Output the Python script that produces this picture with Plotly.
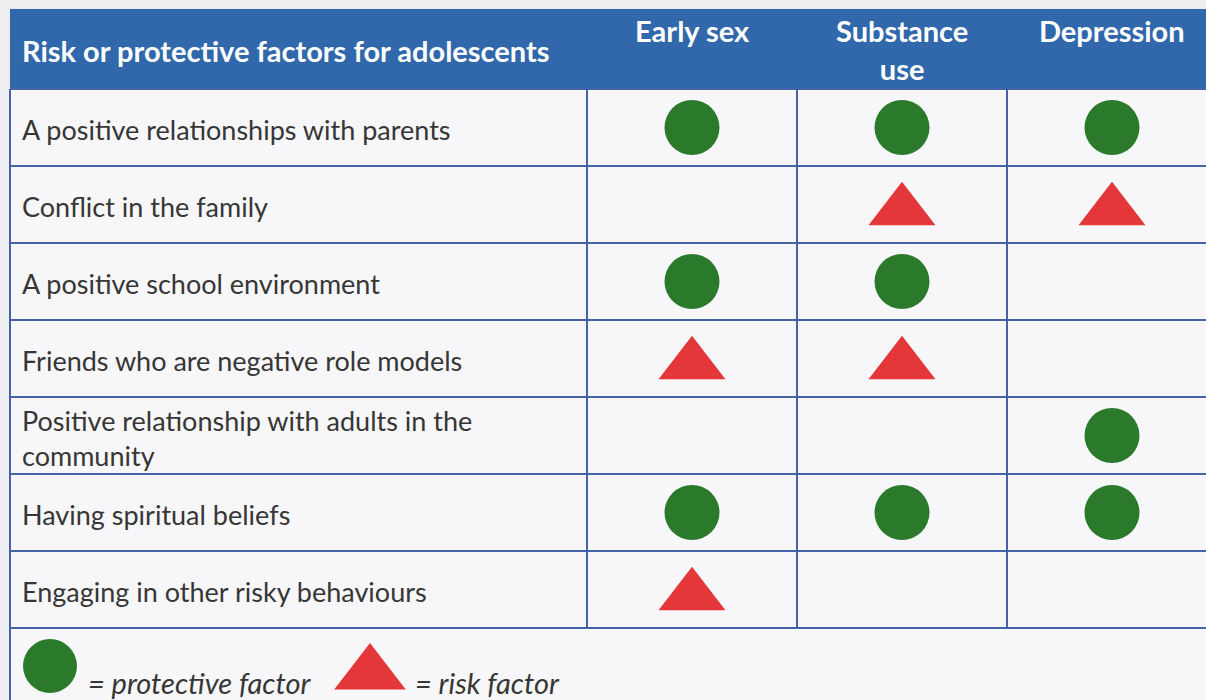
import plotly.graph_objects as go

# ---------------- data ----------------
factors = [
    "A positive relationships with parents",
    "Conflict in the family",
    "A positive school environment",
    "Friends who are negative role models",
    "Positive relationship with adults in the<br>community",
    "Having spiritual beliefs",
    "Engaging in other risky behaviours",
]
outcomes = ["Early sex", "Substance<br>use", "Depression"]
# P = protective factor, R = risk factor, "" = none
early_sex = ["P", "", "P", "R", "", "P", "R"]
substance_use = ["P", "R", "P", "R", "", "P", ""]
depression = ["P", "R", "", "", "P", "P", ""]
header_title = "Risk or protective factors for adolescents"
legend_labels = ["= protective factor", "= risk factor"]

# ---------------- layout constants (pixels) ----------------
W, H = 1206, 700
TABLE_LEFT = 10
HEAD_TOP = 9
HEAD_BOT = 89
ROW_H = 77
COL_LEFT = 587
COL_W = 210

BLUE = "#3068ab"
LINE = "#4465a5"
GREEN = "#2b7a2c"
RED = "#e4373a"
TEXT = "#363636"
FONT = "Lato"


def px_x(px):
    return (px - COL_LEFT) / COL_W - 0.5


def px_y(py):
    return (py - HEAD_BOT) / ROW_H - 0.5


fig = go.Figure()

series = [early_sex, substance_use, depression]
cx, cy, tx, ty = [], [], [], []
for j, s in enumerate(series):
    for i, v in enumerate(s):
        if v == "P":
            cx.append(j)
            cy.append(i)
        elif v == "R":
            tx.append(j)
            ty.append(i + 0.08)

fig.add_trace(go.Scatter(x=cx, y=cy, mode="markers",
                         marker=dict(symbol="circle", size=55, color=GREEN,
                                     line=dict(width=0)),
                         hoverinfo="skip", showlegend=False))
fig.add_trace(go.Scatter(x=tx, y=ty, mode="markers",
                         marker=dict(symbol="triangle-up", size=58, color=RED,
                                     line=dict(width=0)),
                         hoverinfo="skip", showlegend=False))

# legend row markers
fig.add_trace(go.Scatter(x=[px_x(50)], y=[px_y(666)], mode="markers",
                         marker=dict(symbol="circle", size=54, color=GREEN),
                         hoverinfo="skip", showlegend=False))
fig.add_trace(go.Scatter(x=[px_x(370)], y=[px_y(674)], mode="markers",
                         marker=dict(symbol="triangle-up", size=62, color=RED),
                         hoverinfo="skip", showlegend=False))

shapes = []
# header band
shapes.append(dict(type="rect", xref="paper", yref="y",
                   x0=TABLE_LEFT / W, x1=1.0, y0=px_y(HEAD_TOP), y1=-0.5,
                   fillcolor=BLUE, line=dict(width=0), layer="below"))
# body background
shapes.append(dict(type="rect", xref="paper", yref="y",
                   x0=TABLE_LEFT / W, x1=1.0, y0=-0.5, y1=px_y(H + 5),
                   fillcolor="#f7f6f8", line=dict(width=0), layer="below"))
# horizontal lines
for i in range(len(factors) + 1):
    shapes.append(dict(type="line", xref="paper", yref="y",
                       x0=TABLE_LEFT / W, x1=1.0, y0=i - 0.5, y1=i - 0.5,
                       line=dict(color=LINE, width=2)))
# vertical lines
for j in range(len(outcomes)):
    shapes.append(dict(type="line", xref="x", yref="y",
                       x0=j - 0.5, x1=j - 0.5, y0=-0.5, y1=len(factors) - 0.5,
                       line=dict(color=LINE, width=2)))
# left border
shapes.append(dict(type="line", xref="paper", yref="y",
                   x0=TABLE_LEFT / W, x1=TABLE_LEFT / W, y0=-0.5, y1=px_y(H + 5),
                   line=dict(color=LINE, width=2)))

annotations = []
annotations.append(dict(xref="paper", yref="y", x=20 / W, y=px_y(50),
                        text=header_title, showarrow=False, xanchor="left",
                        yanchor="middle",
                        font=dict(family=FONT, size=29, color="white", weight="bold")))
for j, o in enumerate(outcomes):
    annotations.append(dict(xref="x", yref="y", x=j, y=px_y(11), text=o,
                            showarrow=False, xanchor="center", yanchor="top",
                            font=dict(family=FONT, size=29, color="white", weight="bold")))
for i, f in enumerate(factors):
    annotations.append(dict(xref="paper", yref="y", x=20 / W, y=i + 0.03, text=f,
                            showarrow=False, xanchor="left", yanchor="middle",
                            align="left",
                            font=dict(family=FONT, size=27, color=TEXT)))
annotations.append(dict(xref="paper", yref="y", x=86 / W, y=px_y(682),
                        text="<i>" + legend_labels[0] + "</i>", showarrow=False,
                        xanchor="left", yanchor="middle",
                        font=dict(family=FONT, size=29, color=TEXT)))
annotations.append(dict(xref="paper", yref="y", x=413 / W, y=px_y(682),
                        text="<i>" + legend_labels[1] + "</i>", showarrow=False,
                        xanchor="left", yanchor="middle",
                        font=dict(family=FONT, size=29, color=TEXT)))

fig.update_layout(
    width=W, height=H,
    margin=dict(l=0, r=0, t=0, b=0),
    paper_bgcolor="#eeedf0",
    plot_bgcolor="rgba(0,0,0,0)",
    shapes=shapes,
    annotations=annotations,
    xaxis=dict(range=[px_x(0), px_x(W)], visible=False, fixedrange=True),
    yaxis=dict(range=[px_y(H), px_y(0)], visible=False, fixedrange=True),
    font=dict(family=FONT),
)

fig.write_html(
    "out.html",
    config={"displayModeBar": False},
    post_script="document.body.style.margin='0';document.body.style.overflow='hidden';",
)
